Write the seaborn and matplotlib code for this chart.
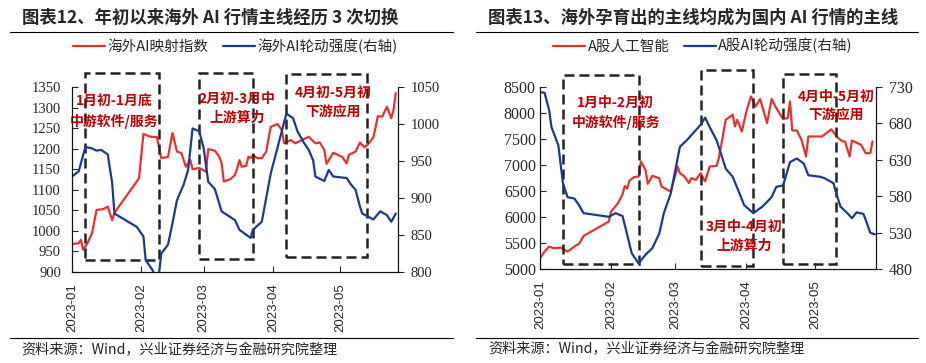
import matplotlib
matplotlib.use('Agg')
import matplotlib.pyplot as plt
import matplotlib.dates as mdates
from matplotlib.lines import Line2D
from matplotlib.patches import Rectangle
import pandas as pd
import seaborn as sns

# ---- 图表12 data ----
l_red_dates = ['2023-01-01', '2023-01-04', '2023-01-05', '2023-01-06', '2023-01-08', '2023-01-10',
               '2023-01-12', '2023-01-15', '2023-01-17', '2023-01-19', '2023-01-20', '2023-01-30',
               '2023-01-31', '2023-02-02', '2023-02-05', '2023-02-08', '2023-02-10', '2023-02-13',
               '2023-02-15', '2023-02-17', '2023-02-19', '2023-02-21', '2023-02-23', '2023-02-24',
               '2023-02-27', '2023-03-02', '2023-03-03', '2023-03-06', '2023-03-08', '2023-03-09',
               '2023-03-10', '2023-03-13', '2023-03-15', '2023-03-16', '2023-03-17', '2023-03-18',
               '2023-03-20', '2023-03-21', '2023-03-22', '2023-03-23', '2023-03-25', '2023-03-27',
               '2023-03-29', '2023-03-31', '2023-04-03', '2023-04-05', '2023-04-06', '2023-04-09',
               '2023-04-11', '2023-04-14', '2023-04-17', '2023-04-20', '2023-04-22', '2023-04-24',
               '2023-04-25', '2023-04-26', '2023-04-28', '2023-05-02', '2023-05-04', '2023-05-05',
               '2023-05-08', '2023-05-10', '2023-05-12', '2023-05-14', '2023-05-16', '2023-05-18',
               '2023-05-20', '2023-05-22', '2023-05-24', '2023-05-25', '2023-05-26']
l_red_vals = [968, 970, 978, 954, 971, 995,
              1051, 1053, 1059, 1026, 1044, 1120,
              1128, 1236, 1229, 1228, 1177, 1180,
              1238, 1193, 1189, 1156, 1172, 1150,
              1153, 1144, 1199, 1195, 1180, 1165,
              1120, 1126, 1136, 1153, 1172, 1156,
              1158, 1180, 1177, 1184, 1177, 1177,
              1193, 1253, 1260, 1245, 1213, 1221,
              1213, 1221, 1229, 1213, 1215, 1197,
              1163, 1172, 1190, 1180, 1164, 1185,
              1193, 1215, 1203, 1213, 1228, 1279,
              1278, 1302, 1274, 1294, 1335]

l_blue_dates = ['2023-01-01', '2023-01-04', '2023-01-07', '2023-01-10', '2023-01-12', '2023-01-14',
                '2023-01-17', '2023-01-19', '2023-01-20', '2023-01-30', '2023-02-02', '2023-02-03',
                '2023-02-06', '2023-02-08', '2023-02-09', '2023-02-10', '2023-02-13', '2023-02-15',
                '2023-02-17', '2023-02-20', '2023-02-22', '2023-02-24', '2023-02-27', '2023-03-01',
                '2023-03-03', '2023-03-06', '2023-03-09', '2023-03-12', '2023-03-15', '2023-03-17',
                '2023-03-22', '2023-03-23', '2023-03-27', '2023-03-31', '2023-04-02', '2023-04-07',
                '2023-04-10', '2023-04-12', '2023-04-15', '2023-04-17', '2023-04-19', '2023-04-20',
                '2023-04-24', '2023-04-26', '2023-04-28', '2023-05-04', '2023-05-06', '2023-05-08',
                '2023-05-10', '2023-05-11', '2023-05-16', '2023-05-19', '2023-05-22', '2023-05-24',
                '2023-05-26']
l_blue_vals = [929, 936, 969, 967, 964, 965,
               959, 920, 879, 861, 848, 816,
               803, 789, 799, 825, 837, 866,
               897, 918, 938, 994, 990, 967,
               922, 912, 882, 876, 870, 857,
               846, 857, 868, 933, 956, 1014,
               1008, 990, 974, 965, 951, 929,
               923, 938, 929, 927, 918, 911,
               888, 879, 871, 882, 877, 868,
               879]

# ---- 图表13 data ----
r_red_dates = ['2023-01-01', '2023-01-03', '2023-01-05', '2023-01-07', '2023-01-10', '2023-01-13',
               '2023-01-15', '2023-01-17', '2023-01-18', '2023-01-20', '2023-01-31', '2023-02-01',
               '2023-02-04', '2023-02-06', '2023-02-07', '2023-02-08', '2023-02-09', '2023-02-11',
               '2023-02-13', '2023-02-14', '2023-02-16', '2023-02-17', '2023-02-19', '2023-02-22',
               '2023-02-23', '2023-02-27', '2023-03-02', '2023-03-03', '2023-03-05', '2023-03-07',
               '2023-03-08', '2023-03-10', '2023-03-12', '2023-03-14', '2023-03-16', '2023-03-19',
               '2023-03-20', '2023-03-23', '2023-03-26', '2023-03-27', '2023-03-28', '2023-03-30',
               '2023-04-01', '2023-04-03', '2023-04-05', '2023-04-07', '2023-04-10', '2023-04-12',
               '2023-04-14', '2023-04-17', '2023-04-19', '2023-04-20', '2023-04-21', '2023-04-23',
               '2023-04-25', '2023-04-27', '2023-04-28', '2023-05-04', '2023-05-08', '2023-05-11',
               '2023-05-13', '2023-05-14', '2023-05-16', '2023-05-17', '2023-05-21', '2023-05-23',
               '2023-05-25', '2023-05-26']
r_red_vals = [5212, 5339, 5435, 5404, 5416, 5339,
              5404, 5467, 5487, 5640, 5916, 6108,
              6269, 6440, 6600, 6550, 6700, 6770,
              6781, 7070, 6910, 6640, 6794, 6750,
              6589, 6492, 6973, 6846, 6781, 6654,
              6750, 6717, 6846, 6685, 6973, 6985,
              7135, 7871, 7967, 7742, 7871, 7646,
              8030, 8319, 8127, 8269, 7808, 8269,
              8096, 7885, 7904, 8223, 7665, 7665,
              7487, 7166, 7550, 7550, 7687, 7519,
              7454, 7454, 7166, 7473, 7390, 7230,
              7230, 7454]

r_blue_dates = ['2023-01-01', '2023-01-03', '2023-01-05', '2023-01-06', '2023-01-09', '2023-01-11',
                '2023-01-13', '2023-01-16', '2023-01-18', '2023-01-20', '2023-01-31', '2023-02-03',
                '2023-02-06', '2023-02-10', '2023-02-13', '2023-02-16', '2023-02-19', '2023-02-22',
                '2023-02-24', '2023-02-27', '2023-03-03', '2023-03-06', '2023-03-10', '2023-03-12',
                '2023-03-14', '2023-03-16', '2023-03-19', '2023-03-23', '2023-03-26', '2023-03-29',
                '2023-03-31', '2023-04-04', '2023-04-08', '2023-04-12', '2023-04-14', '2023-04-17',
                '2023-04-20', '2023-04-23', '2023-04-26', '2023-04-28', '2023-05-03', '2023-05-05',
                '2023-05-09', '2023-05-10', '2023-05-12', '2023-05-15', '2023-05-17', '2023-05-19',
                '2023-05-22', '2023-05-23', '2023-05-25', '2023-05-27']
r_blue_vals = [723, 722, 698, 675, 650, 598,
               579, 577, 568, 557, 552, 557,
               553, 502, 488, 500, 509, 529,
               557, 584, 648, 657, 671, 678,
               688, 675, 657, 618, 607, 584,
               568, 557, 566, 579, 593, 595,
               627, 632, 625, 609, 607, 605,
               598, 586, 566, 557, 550, 558,
               556, 548, 530, 528]

month_ticks = ['2023-01-01', '2023-02-01', '2023-03-01', '2023-04-01', '2023-05-01']
month_labels = ['2023-01', '2023-02', '2023-03', '2023-04', '2023-05']

l_yticks = [900, 950, 1000, 1050, 1100, 1150, 1200, 1250, 1300, 1350]
l_y2ticks = [800, 850, 900, 950, 1000, 1050]
r_yticks = [5000, 5500, 6000, 6500, 7000, 7500, 8000, 8500]
r_y2ticks = [480, 530, 580, 630, 680, 730]

# dashed boxes: (start, end, low, high) in left-axis units; notes: (date, value, text)
l_boxes = [('2023-01-07', '2023-02-09', 928, 1383),
           ('2023-02-27', '2023-03-23', 931, 1383),
           ('2023-04-07', '2023-05-13', 937, 1381)]
l_notes = [('2023-01-20', 1289, '1月初-1月底\n中游软件/服务'),
           ('2023-03-16', 1299, '2月初-3月中\n上游算力'),
           ('2023-04-28', 1311, '4月初-5月初\n下游应用')]
r_boxes = [('2023-01-11', '2023-02-13', 5102, 8737),
           ('2023-03-12', '2023-04-04', 5069, 8819),
           ('2023-04-17', '2023-05-10', 5102, 8750)]
r_notes = [('2023-02-03', 8000, '1月中-2月初\n中游软件/服务'),
           ('2023-03-31', 5640, '3月中-4月初\n上游算力'),
           ('2023-05-10', 8133, '4月中-5月初\n下游应用')]

RED = '#E8312F'
BLUE = '#1B3A8E'
NOTE = '#C00000'
CJK = ['Noto Sans CJK SC', 'DejaVu Sans']
SERIF = ['Liberation Serif', 'DejaVu Serif']
SANS = ['Liberation Sans', 'DejaVu Sans']

sns.set_style('ticks')
plt.rcParams['font.family'] = CJK
plt.rcParams['axes.unicode_minus'] = False

W, H = 926, 363
fig = plt.figure(figsize=(W / 100, H / 100), dpi=100)


def fx(px):
    return px / W


def fy(py):
    return 1 - py / H


def draw_panel(rect, red_d, red_v, blue_d, blue_v, yt, yt2, xend, boxes, notes,
               ysize, lpad, ldir):
    ax = fig.add_axes(rect)
    ax2 = ax.twinx()
    sns.lineplot(x=pd.to_datetime(red_d), y=red_v, ax=ax, color=RED, lw=1.6)
    sns.lineplot(x=pd.to_datetime(blue_d), y=blue_v, ax=ax2, color=BLUE, lw=1.6)

    ax.set_xlim(pd.Timestamp('2023-01-01'), pd.Timestamp(xend))
    ax.set_ylim(yt[0], yt[-1])
    ax2.set_ylim(yt2[0], yt2[-1])
    ax.set_xticks(pd.to_datetime(month_ticks))
    ax.set_xticklabels(month_labels, rotation=90, fontfamily=SANS, fontsize=9.5)
    ax.set_yticks(yt)
    ax.set_yticklabels([str(v) for v in yt], fontfamily=SERIF, fontsize=ysize)
    ax2.set_yticks(yt2)
    ax2.set_yticklabels([str(v) for v in yt2], fontfamily=SERIF, fontsize=ysize)
    for a in (ax, ax2):
        a.set_xlabel('')
        a.set_ylabel('')
        a.spines['top'].set_visible(False)
        for s in a.spines.values():
            s.set_linewidth(0.8)
            s.set_color('#111111')
    ax.tick_params(axis='x', direction='in', length=4, pad=8, width=0.8)
    ax.tick_params(axis='y', direction=ldir, length=4, pad=lpad, width=0.8)
    ax2.tick_params(axis='y', direction='out', length=4, pad=5, width=0.8)

    for s, e, lo, hi in boxes:
        x0 = mdates.date2num(pd.Timestamp(s))
        x1 = mdates.date2num(pd.Timestamp(e))
        ax.add_patch(Rectangle((x0, lo), x1 - x0, hi - lo, fill=False, ec='#222222',
                               lw=1.8, ls=(0, (4, 2)), clip_on=False, zorder=5))
    for d, v, t in notes:
        ax.text(mdates.date2num(pd.Timestamp(d)), v, t, ha='center', va='center',
                color=NOTE, fontsize=10, fontweight='bold', linespacing=1.45,
                family=CJK, zorder=6)
    return ax, ax2


draw_panel([fx(72), fy(272), fx(326), 185 / H], l_red_dates, l_red_vals, l_blue_dates,
           l_blue_vals, l_yticks, l_y2ticks, '2023-05-27', l_boxes, l_notes, 10.5, 8, 'in')
draw_panel([fx(540), fy(269.3), fx(336), 182.3 / H], r_red_dates, r_red_vals, r_blue_dates,
           r_blue_vals, r_yticks, r_y2ticks, '2023-05-27 12:00', r_boxes, r_notes, 11.5, 3, 'in')

# titles, rules, legends, sources
fig.text(fx(22), fy(18), '图表12、年初以来海外 AI 行情主线经历 3 次切换', fontsize=12.5,
         fontweight='bold', va='center', ha='left')
fig.text(fx(488), fy(18), '图表13、海外孕育出的主线均成为国内 AI 行情的主线', fontsize=12.5,
         fontweight='bold', va='center', ha='left')
for x0, x1 in ((10, 453), (476, 918)):
    fig.add_artist(Line2D([fx(x0), fx(x1)], [fy(32), fy(32)], color='black', lw=0.8,
                          transform=fig.transFigure))
    fig.add_artist(Line2D([fx(x0), fx(x1)], [fy(338), fy(338)], color='black', lw=0.8,
                          transform=fig.transFigure))

src = '资料来源：Wind，兴业证券经济与金融研究院整理'
fig.text(fx(21), fy(350), src, fontsize=10.2, va='center', ha='left')
fig.text(fx(488), fy(349), src, fontsize=10.2, va='center', ha='left')

hl = [Line2D([], [], color=RED, lw=1.6), Line2D([], [], color=BLUE, lw=1.6)]
fig.legend(hl, ['海外AI映射指数', '海外AI轮动强度(右轴)'], loc='center',
           bbox_to_anchor=(fx(235), fy(46)), ncol=2, frameon=False, fontsize=10.5,
           handlelength=2.2, handletextpad=0.15, columnspacing=1.0)
fig.legend(hl, ['A股人工智能', 'A股AI轮动强度(右轴)'], loc='center',
           bbox_to_anchor=(fx(703), fy(46)), ncol=2, frameon=False, fontsize=10.5,
           handlelength=2.2, handletextpad=0.15, columnspacing=1.0)

fig.savefig('out.png', dpi=100)
